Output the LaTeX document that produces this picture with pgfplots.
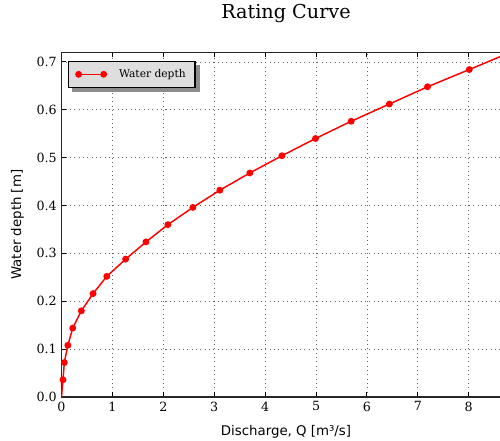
\documentclass[border=0pt]{standalone}
\usepackage{pgfplots}
\pgfplotsset{compat=1.18}
\usepackage{fontspec}
\setmainfont{DejaVu Serif}
\newfontfamily\dvsans{DejaVu Sans}
\definecolor{lgfill}{RGB}{222,222,222}
\begin{document}
\begin{tikzpicture}
\begin{axis}[
  at={(0,0)}, anchor=south west,
  scale only axis,
  width=336.75pt, height=258.5pt,
  xmin=0, xmax=8.82, ymin=0, ymax=0.72,
  xtick={0,1,...,8}, ytick={0,0.1,...,0.7},
  /pgf/number format/assume math mode=true,
  yticklabel style={/pgf/number format/fixed, /pgf/number format/fixed zerofill, /pgf/number format/precision=1},
  xticklabel style={/pgf/number format/fixed},
  ticklabel style={font=\fontsize{9.5}{11}\selectfont},
  tick align=inside,
  major tick length=3.5pt,
  every tick/.style={black, line width=0.8pt},
  axis line style={line width=1.2pt, black!85},
  grid=major,
  major grid style={black!60, line width=0.6pt, dash pattern=on 0.75pt off 2.5pt},
  xlabel={\dvsans Discharge, Q [m³/s]},
  ylabel={\dvsans Water depth [m]},
  label style={font=\fontsize{10}{12}\selectfont},
  xlabel style={at={(axis description cs:0.5,0)}, anchor=center, yshift=-26pt},
  ylabel style={at={(axis description cs:0,0.5)}, anchor=center, yshift=33pt},
  title={Rating Curve},
  title style={font=\fontsize{14.4}{16}\selectfont, at={(axis description cs:0.5,1)}, anchor=base, yshift=19.2pt},
  legend style={name=leg, at={(axis description cs:0,1)}, anchor=north west, xshift=4.9pt, yshift=-6.3pt,
    fill=lgfill, draw=black, line width=0.8pt,
    font=\fontsize{8}{10}\selectfont,
    inner xsep=5pt, inner ysep=4pt},
  legend cell align=left,
  legend image code/.code={
    \draw[red, line width=1.1pt] (0cm,0cm) -- (0.66cm,0cm);
    \fill[red] (0cm,0cm) circle (2pt);
    \fill[red] (0.66cm,0cm) circle (2pt);
    \path (0.66cm+9pt,0cm);
  },
]
\addplot[red, line width=1.1pt, mark=*, mark size=2pt, mark options={fill=red, draw=red}, mark indices={2,...,21}] coordinates {
(0,0)
(0.03,0.036)
(0.055,0.072)
(0.125,0.108)
(0.22,0.144)
(0.39,0.18)
(0.62,0.216)
(0.89,0.252)
(1.26,0.288)
(1.66,0.324)
(2.09,0.36)
(2.58,0.396)
(3.11,0.432)
(3.70,0.468)
(4.33,0.504)
(4.99,0.54)
(5.69,0.576)
(6.44,0.612)
(7.19,0.648)
(8.01,0.684)
(8.82,0.72)
};
\addlegendentry{Water depth}
\end{axis}
\fill[black!45] ([xshift=0.4pt]leg.north east) ++(0,-3pt) rectangle ([xshift=3.4pt,yshift=-3pt]leg.south east);
\fill[black!45] ([xshift=3pt,yshift=-0.4pt]leg.south west) rectangle ([xshift=3.4pt,yshift=-3pt]leg.south east);
\pgfresetboundingbox
\path[use as bounding box] (-46.125pt,-33pt) rectangle (328.875pt,297.75pt);
\end{tikzpicture}
\end{document}
